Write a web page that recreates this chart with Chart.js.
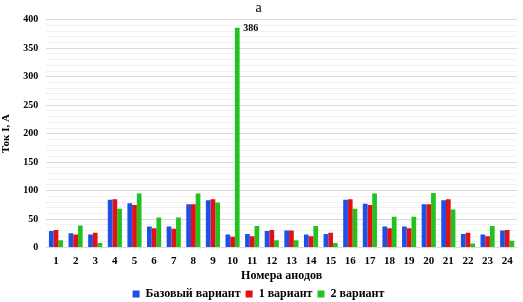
<!DOCTYPE html>
<html>
<head>
<meta charset="utf-8">
<script src="https://cdn.jsdelivr.net/npm/chart.js@4"></script>
<style>
    body { margin: 0; background: #fff; }
    #wrap { width: 523px; height: 302px; }
</style>
</head>
<body>
<div id="wrap"><canvas id="chart"></canvas></div>
<script>
    // номера анодов
    let anodes = ["1", "2", "3", "4", "5", "6", "7", "8", "9", "10", "11", "12",
        "13", "14", "15", "16", "17", "18", "19", "20", "21", "22", "23", "24"];

    let baseVariant = [29, 25, 23, 84, 78, 37, 37, 76, 83, 23, 24, 29,
        30, 23, 24, 84, 77, 37, 37, 76, 83, 24, 23, 30];
    let variant1 = [31, 23, 26, 85, 75, 34, 33, 76, 85, 19, 20, 31,
        30, 20, 26, 85, 75, 34, 34, 76, 85, 26, 20, 31];
    let variant2 = [13, 39, 8, 68, 95, 53, 53, 95, 79, 386, 38, 13,
        13, 38, 8, 68, 95, 54, 54, 96, 67, 7, 38, 12];

    let yTicks = [0, 50, 100, 150, 200, 250, 300, 350, 400];

    //colors
    let blueColor = "#1f4fe6";
    let redColor = "#e31212";
    let greenColor = "#22c31e";

    const serif = "'Liberation Serif', 'DejaVu Serif', serif";

    // подпись 386 над столбцом 10
    const peakLabel = {
        id: "peakLabel",
        afterDatasetsDraw(chart) {
            const meta = chart.getDatasetMeta(2);
            const vals = chart.data.datasets[2].data;
            let maxIdx = vals.indexOf(Math.max(...vals));
            const bar = meta.data[maxIdx];
            const c = chart.ctx;
            c.save();
            c.font = "bold 10px " + serif;
            c.fillStyle = "#000";
            c.textBaseline = "middle";
            c.fillText(String(vals[maxIdx]), bar.x + 6, bar.y + 1);
            c.restore();
        }
    };

    const ctx = document.getElementById("chart");

    new Chart(ctx, {
        type: "bar",
        data: {
            labels: anodes,
            datasets: [
                { label: "Базовый вариант", data: baseVariant, backgroundColor: blueColor },
                { label: "1 вариант", data: variant1, backgroundColor: redColor },
                { label: "2 вариант", data: variant2, backgroundColor: greenColor }
            ]
        },
        options: {
            responsive: true,
            maintainAspectRatio: false,
            animation: false,
            // legend reserves extra room below itself, pull it down a bit
            layout: { padding: { left: 0, right: 6, top: 0, bottom: -8 } },
            datasets: {
                bar: { barPercentage: 1.0, categoryPercentage: 0.72 }
            },
            plugins: {
                title: {
                    display: true,
                    text: "a",
                    color: "#000",
                    font: { family: serif, size: 14, weight: "normal" },
                    padding: { top: 0, bottom: 3 }
                },
                legend: {
                    position: "bottom",
                    labels: {
                        boxWidth: 7,
                        boxHeight: 7,
                        padding: 5,
                        color: "#000",
                        font: { family: serif, size: 12, weight: "bold", lineHeight: 1 }
                    }
                },
                tooltip: { enabled: false }
            },
            scales: {
                x: {
                    grid: { display: false, drawTicks: false },
                    border: { display: false },
                    ticks: {
                        color: "#000",
                        padding: 7,
                        maxRotation: 0,
                        font: { family: serif, size: 11, weight: "bold" }
                    },
                    title: {
                        display: true,
                        text: "Номера анодов",
                        color: "#000",
                        padding: { top: -5, bottom: 0 },
                        font: { family: serif, size: 12, weight: "bold", lineHeight: 1.1 }
                    }
                },
                y: {
                    min: 0,
                    max: 400,
                    border: { display: false },
                    grid: {
                        drawTicks: false,
                        color: (c) => (c.tick.value % 50 === 0 ? "#d9d9d9" : "#f1f1f1")
                    },
                    afterBuildTicks: (axis) => {
                        let t = [];
                        for (let v = 0; v <= 400; v += 10) t.push({ value: v });
                        axis.ticks = t;
                    },
                    ticks: {
                        autoSkip: false,
                        padding: 8,
                        color: "#000",
                        font: { family: serif, size: 10, weight: "bold" },
                        callback: (v) => (yTicks.includes(v) ? v : "")
                    },
                    title: {
                        display: true,
                        text: "Ток I, A",
                        color: "#000",
                        padding: { top: 0, bottom: 2 },
                        font: { family: serif, size: 11, weight: "bold" }
                    }
                }
            }
        },
        plugins: [peakLabel]
    });
</script>
</body>
</html>
